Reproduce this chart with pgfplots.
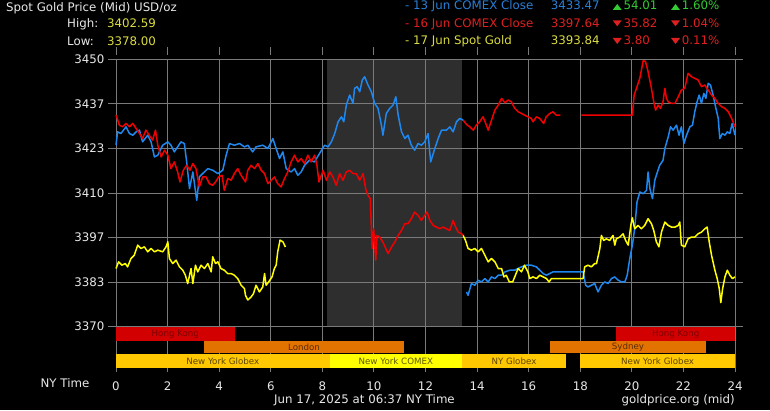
\documentclass[border=0pt]{standalone}
\usepackage{fontspec}
\setmainfont{DejaVu Sans}
\usepackage{pgfplots}
\pgfplotsset{compat=1.18}
\definecolor{cblue}{HTML}{1E88F0}
\definecolor{cred}{HTML}{F00000}
\definecolor{cyel}{HTML}{FFFF00}
\definecolor{tblue}{HTML}{2A80D8}
\definecolor{tred}{HTML}{E02020}
\definecolor{tyel}{HTML}{DCDC40}
\definecolor{tgreen}{HTML}{33CC33}
\definecolor{twhite}{HTML}{E8E8E8}
\definecolor{gridc}{HTML}{7A7A7A}
\definecolor{shadec}{HTML}{2E2E2E}
\definecolor{hk}{HTML}{D20000}
\definecolor{hkt}{HTML}{7A0000}
\definecolor{lon}{HTML}{E37300}
\definecolor{lont}{HTML}{5C2A00}
\definecolor{glb}{HTML}{FFC800}
\definecolor{glbt}{HTML}{5A4500}
\definecolor{cmx}{HTML}{FFFF00}
\definecolor{cmxt}{HTML}{5A5A00}
\newcommand{\mf}{\fontsize{11.8}{14}\selectfont}
\newcommand{\bfnt}{\fontsize{8.7}{10}\selectfont}
\begin{document}
\begin{tikzpicture}
\begin{axis}[set layers, clip=false,
  at={(116pt,41.7pt)}, anchor=south west,
  scale only axis, width=619pt, height=309pt,
  xmin=0, xmax=24, ymin=3357.55, ymax=3450,
  xtick={0,2,...,24},
  ytick={3370,3383.333,3396.667,3410,3423.333,3436.667,3450},
  yticklabels={3370,3383,3397,3410,3423,3437,3450},
  grid=major,
  major grid style={draw=gridc, line width=0.9pt},
  axis line style={draw=none},
  tick align=outside,
  major tick length=8pt,
  tick style={draw=gridc, line width=0.9pt},
  xtick style={yshift=4pt},
  tick label style={font=\mf, text=twhite},
  xticklabel style={yshift=-2pt},
  /pgf/number format/assume math mode=true,
  every axis plot/.append style={line width=1.5pt, line join=round, no markers},
]
\begin{pgfonlayer}{axis background}
\fill[black] ([xshift=-116pt,yshift=-41.7pt]rel axis cs:0,0) rectangle ([xshift=35pt,yshift=59.3pt]rel axis cs:1,1);
\fill[shadec] (axis cs:8.19,3370) rectangle (axis cs:13.41,3450);
\end{pgfonlayer}
% session bars
\fill[hk] (axis cs:0,3365.7) rectangle (axis cs:4.6,3370);
\fill[hk] (axis cs:19.39,3365.7) rectangle (axis cs:24,3370);
\fill[lon] (axis cs:3.41,3362.0) rectangle (axis cs:11.17,3365.7);
\fill[lon] (axis cs:16.83,3362.0) rectangle (axis cs:22.87,3365.7);
\fill[glb] (axis cs:0,3357.55) rectangle (axis cs:8.28,3361.9);
\fill[cmx] (axis cs:8.28,3357.55) rectangle (axis cs:13.41,3361.9);
\fill[glb] (axis cs:13.41,3357.55) rectangle (axis cs:17.44,3361.9);
\fill[glb] (axis cs:17.99,3357.55) rectangle (axis cs:24,3361.9);
\node[font=\bfnt, text=hkt] at (axis cs:2.3,3367.85) {Hong Kong};
\node[font=\bfnt, text=hkt] at (axis cs:21.7,3367.85) {Hong Kong};
\node[font=\bfnt, text=lont] at (axis cs:7.29,3363.85) {London};
\node[font=\bfnt, text=lont] at (axis cs:19.85,3363.85) {Sydney};
\node[font=\bfnt, text=glbt] at (axis cs:4.14,3359.72) {New York Globex};
\node[font=\bfnt, text=cmxt] at (axis cs:10.85,3359.72) {New York COMEX};
\node[font=\bfnt, text=glbt] at (axis cs:15.43,3359.72) {NY Globex};
\node[font=\bfnt, text=glbt] at (axis cs:21.0,3359.72) {New York Globex};
% blue A
\addplot[cblue] coordinates {
(0,3424.3)(0.06,3428.3)(0.19,3427.8)(0.39,3429.8)(0.52,3427.8)(0.65,3427.3)(0.78,3428.3)(0.91,3428.8)
(1.03,3425.3)(1.23,3427.3)(1.36,3425.3)(1.49,3420.8)(1.62,3421.3)(1.81,3424.3)(2.01,3425.3)(2.13,3424.3)
(2.26,3422.3)(2.39,3423.8)(2.52,3425.3)(2.65,3424.8)(2.74,3419.3)(2.85,3411.3)(2.98,3416.3)(3.13,3407.8)
(3.23,3414.8)(3.36,3415.8)(3.56,3417.3)(3.75,3416.8)(3.95,3415.8)(4.14,3416.8)(4.27,3421.3)(4.40,3424.8)
(4.59,3424.3)(4.79,3424.8)(4.98,3423.8)(5.11,3424.3)(5.30,3422.3)(5.43,3423.8)(5.69,3424.3)(5.89,3423.3)
(6.08,3426.3)(6.21,3423.3)(6.34,3420.3)(6.47,3422.3)(6.60,3417.3)(6.79,3416.3)(6.92,3417.3)(7.05,3415.3)
(7.18,3416.3)(7.31,3418.3)(7.50,3419.8)(7.70,3419.3)(7.89,3421.8)(8.09,3424.3)(8.22,3423.8)(8.35,3425.3)
(8.48,3427.8)(8.61,3431.3)(8.74,3432.8)(8.83,3431.3)(8.93,3436.3)(9.06,3439.3)(9.19,3436.8)(9.25,3441.3)
(9.35,3441.8)(9.45,3440.3)(9.55,3443.8)(9.64,3444.8)(9.77,3442.3)(9.90,3440.3)(10.03,3436.8)(10.16,3435.3)
(10.29,3430.3)(10.35,3427.3)(10.48,3433.8)(10.61,3435.3)(10.74,3436.3)(10.85,3438.8)(10.94,3433.3)(11.07,3428.3)
(11.20,3426.3)(11.32,3427.3)(11.45,3424.3)(11.58,3422.8)(11.71,3424.8)(11.84,3424.3)(11.97,3425.3)(12.10,3427.8)
(12.20,3419.3)(12.36,3423.3)(12.49,3426.3)(12.62,3428.8)(12.81,3428.8)(12.94,3429.8)(13.07,3428.3)(13.20,3431.3)
(13.33,3432.3)(13.46,3431.8)};
% blue B
\addplot[cblue] coordinates {
(13.59,3380.4)(13.65,3379.4)(13.78,3382.9)(13.91,3382.4)(14.04,3383.9)(14.17,3383.4)(14.30,3384.4)(14.43,3383.4)
(14.56,3384.9)(14.69,3384.4)(14.82,3385.4)(14.95,3385.4)(15.08,3386.4)(15.27,3386.9)(15.46,3386.9)(15.59,3387.4)
(15.72,3387.9)(15.91,3388.4)(16.10,3388.4)(16.30,3387.9)(16.43,3386.9)(16.56,3385.9)(16.69,3385.4)(16.82,3385.9)
(16.94,3386.4)(18.11,3386.4)(18.21,3382.4)(18.30,3381.9)(18.43,3382.4)(18.56,3382.9)(18.69,3380.4)(18.82,3382.4)
(18.95,3383.4)(19.08,3382.9)(19.21,3384.4)(19.34,3384.9)(19.47,3383.9)(19.60,3383.4)(19.73,3383.4)(19.82,3385.4)
(19.92,3390.4)(20.02,3394.4)(20.11,3399.3)(20.20,3407.3)(20.31,3410.3)(20.44,3409.8)(20.57,3410.8)(20.63,3416.3)
(20.70,3411.3)(20.80,3408.3)(20.89,3413.8)(20.95,3415.3)(21.08,3418.3)(21.21,3419.8)(21.28,3423.3)(21.41,3426.8)
(21.50,3429.8)(21.60,3428.8)(21.73,3430.3)(21.83,3427.3)(21.92,3429.8)(22.02,3424.8)(22.12,3427.3)(22.25,3429.8)
(22.35,3430.3)(22.44,3434.3)(22.53,3437.3)(22.61,3439.3)(22.70,3436.8)(22.79,3439.8)(22.87,3438.3)(22.96,3442.8)
(23.05,3442.3)(23.15,3439.3)(23.26,3435.3)(23.35,3432.3)(23.41,3426.3)(23.51,3427.8)(23.61,3427.3)(23.70,3428.3)
(23.80,3427.8)(23.89,3430.8)(24.0,3427.3)};
% red A
\addplot[cred] coordinates {
(0,3433.3)(0.13,3430.3)(0.26,3429.8)(0.39,3430.8)(0.52,3429.8)(0.65,3430.8)(0.78,3429.3)(0.91,3427.8)
(1.03,3426.3)(1.16,3428.8)(1.29,3427.3)(1.42,3425.8)(1.53,3428.8)(1.62,3424.3)(1.75,3420.8)(1.88,3422.8)
(2.01,3421.3)(2.13,3417.3)(2.26,3419.3)(2.39,3416.3)(2.48,3413.3)(2.61,3416.8)(2.74,3418.3)(2.87,3416.8)
(2.98,3418.8)(3.10,3417.3)(3.23,3411.8)(3.36,3414.8)(3.49,3414.8)(3.62,3412.8)(3.75,3412.3)(3.86,3413.3)
(3.98,3414.8)(4.11,3415.3)(4.20,3410.8)(4.33,3414.3)(4.46,3413.8)(4.59,3415.8)(4.72,3417.3)(4.85,3415.3)
(5.02,3413.3)(5.11,3416.8)(5.24,3418.3)(5.37,3417.3)(5.50,3418.8)(5.63,3416.8)(5.76,3415.8)(5.89,3412.8)
(6.02,3413.8)(6.14,3414.8)(6.27,3412.8)(6.40,3411.8)(6.53,3414.3)(6.66,3416.3)(6.79,3419.3)(6.92,3421.3)
(7.05,3419.3)(7.18,3420.3)(7.31,3418.8)(7.44,3421.3)(7.57,3419.3)(7.70,3421.3)(7.79,3418.3)(7.87,3413.3)
(8.03,3416.8)(8.16,3413.8)(8.29,3416.3)(8.41,3414.8)(8.54,3412.3)(8.67,3415.8)(8.80,3413.8)(8.93,3416.3)
(9.06,3416.8)(9.19,3415.8)(9.32,3415.8)(9.45,3413.8)(9.58,3415.8)(9.68,3411.3)(9.77,3409.3)(9.86,3408.3)
(9.93,3393.4)(9.99,3399.3)(10.07,3389.9)(10.12,3397.3)(10.22,3396.8)(10.35,3395.3)(10.46,3393.4)(10.55,3391.9)
(10.68,3393.8)(10.81,3395.3)(10.94,3397.3)(11.07,3398.8)(11.20,3400.8)(11.32,3400.8)(11.45,3402.3)(11.58,3404.3)
(11.71,3403.3)(11.84,3401.8)(11.97,3403.3)(12.06,3404.3)(12.17,3401.8)(12.30,3400.3)(12.43,3399.8)(12.55,3399.3)
(12.68,3399.8)(12.81,3399.3)(12.94,3398.8)(13.07,3401.8)(13.17,3399.8)(13.27,3398.3)(13.40,3397.8)(13.46,3397.3)};
% red B
\addplot[cred] coordinates {
(13.46,3431.8)(13.59,3430.5)(13.72,3429.8)(13.85,3428.8)(13.97,3430.3)(14.10,3431.3)(14.23,3432.8)(14.36,3430.3)
(14.43,3428.8)(14.56,3431.8)(14.69,3434.8)(14.82,3436.3)(14.95,3438.3)(15.08,3437.0)(15.20,3437.8)(15.33,3437.3)
(15.46,3435.3)(15.59,3434.3)(15.72,3433.8)(15.84,3433.3)(15.97,3432.8)(16.10,3432.3)(16.17,3431.3)(16.30,3432.8)
(16.43,3432.3)(16.58,3430.8)(16.68,3432.8)(16.82,3433.8)(16.94,3434.3)(17.07,3433.3)(17.23,3433.3)};
% red C
\addplot[cred] coordinates {
(18.04,3433.3)(20.02,3433.3)(20.09,3439.3)(20.18,3441.3)(20.31,3444.3)(20.44,3449.6)(20.53,3449.3)(20.63,3446.3)
(20.76,3441.3)(20.85,3437.3)(20.92,3434.8)(21.02,3436.3)(21.11,3435.3)(21.21,3437.3)(21.28,3441.3)(21.34,3438.3)
(21.41,3437.3)(21.54,3436.8)(21.67,3436.8)(21.80,3438.8)(21.92,3440.8)(22.05,3441.3)(22.18,3445.8)(22.31,3444.8)
(22.44,3444.3)(22.57,3443.8)(22.70,3441.8)(22.83,3442.3)(22.96,3440.8)(23.09,3439.3)(23.22,3438.3)(23.35,3436.8)
(23.48,3435.8)(23.61,3435.3)(23.74,3434.3)(23.87,3432.3)(24.0,3429.8)};
% yellow A
\addplot[cyel] coordinates {
(0,3387.4)(0.10,3389.4)(0.23,3388.4)(0.36,3388.9)(0.45,3387.9)(0.58,3390.4)(0.71,3391.4)(0.84,3394.4)
(0.97,3393.4)(1.10,3393.9)(1.23,3392.4)(1.36,3393.4)(1.49,3392.4)(1.62,3392.9)(1.81,3392.4)(1.94,3393.9)
(2.01,3395.4)(2.07,3390.4)(2.20,3388.9)(2.33,3389.9)(2.46,3387.9)(2.59,3386.9)(2.69,3385.4)(2.78,3382.9)
(2.91,3387.4)(2.98,3382.9)(3.08,3388.4)(3.17,3386.4)(3.30,3388.4)(3.43,3387.4)(3.56,3388.9)(3.69,3386.4)
(3.75,3390.9)(3.86,3388.9)(3.95,3389.4)(4.07,3387.4)(4.20,3386.9)(4.33,3385.9)(4.46,3385.9)(4.59,3385.4)
(4.72,3384.4)(4.85,3382.4)(4.98,3381.4)(5.02,3379.4)(5.11,3378.0)(5.24,3378.9)(5.33,3379.9)(5.43,3382.4)
(5.56,3380.4)(5.69,3381.9)(5.76,3385.9)(5.82,3382.4)(5.92,3383.4)(6.05,3384.9)(6.14,3387.4)(6.21,3388.4)
(6.27,3392.4)(6.36,3395.9)(6.47,3395.4)(6.57,3393.84)};
% yellow B
\addplot[cyel] coordinates {
(13.46,3397.3)(13.55,3395.8)(13.65,3393.4)(13.78,3392.9)(13.91,3393.4)(14.04,3392.4)(14.17,3393.4)(14.30,3391.4)
(14.43,3389.4)(14.56,3390.4)(14.69,3389.4)(14.82,3387.4)(14.95,3387.4)(15.04,3384.9)(15.13,3385.4)(15.25,3383.4)
(15.38,3383.4)(15.46,3384.9)(15.59,3387.4)(15.72,3386.4)(15.84,3388.4)(15.97,3386.4)(16.04,3384.4)(16.17,3384.9)
(16.30,3384.4)(16.43,3385.4)(16.56,3384.9)(16.69,3384.4)(16.79,3383.4)(16.88,3384.4)(18.11,3384.4)(18.17,3387.9)
(18.30,3388.4)(18.43,3387.9)(18.56,3388.9)(18.63,3388.9)(18.76,3393.4)(18.82,3397.3)(18.91,3395.8)(19.01,3396.3)
(19.14,3395.8)(19.27,3397.3)(19.34,3394.4)(19.40,3396.3)(19.53,3396.8)(19.66,3397.8)(19.76,3395.8)(19.86,3394.4)
(19.96,3400.3)(20.02,3402.6)(20.11,3399.3)(20.24,3400.3)(20.37,3399.3)(20.50,3400.3)(20.63,3402.3)(20.76,3400.8)
(20.85,3398.8)(20.95,3395.4)(21.05,3393.9)(21.15,3398.3)(21.28,3401.3)(21.41,3400.3)(21.54,3399.8)(21.67,3399.8)
(21.80,3400.3)(21.86,3401.3)(21.92,3394.4)(22.05,3393.9)(22.18,3396.3)(22.31,3396.8)(22.44,3396.8)(22.57,3397.8)
(22.70,3398.3)(22.83,3399.3)(22.92,3399.8)(23.00,3395.4)(23.09,3391.4)(23.22,3386.9)(23.31,3384.4)(23.39,3381.4)
(23.45,3377.2)(23.52,3381.4)(23.61,3384.9)(23.70,3386.9)(23.80,3385.4)(23.90,3384.4)(24.0,3384.9)};
\end{axis}
% header texts
\begin{scope}[every node/.style={inner sep=0pt, font=\mf}]
\node[anchor=base west, text=twhite] at (6pt,398pt) {Spot Gold Price (Mid) USD/oz};
\node[anchor=base west, text=twhite] at (67pt,382pt) {High:};
\node[anchor=base west, text=tyel] at (107pt,382pt) {3402.59};
\node[anchor=base west, text=twhite] at (67pt,364.5pt) {Low:};
\node[anchor=base west, text=tyel] at (107pt,364.5pt) {3378.00};
% legend rows
\node[anchor=base west, text=tblue] at (405pt,400pt) {- 13 Jun COMEX Close};
\node[anchor=base west, text=tblue] at (550.7pt,400pt) {3433.47};
\node[anchor=base west, text=tgreen] at (623.3pt,400pt) {54.01};
\node[anchor=base west, text=tgreen] at (681.7pt,400pt) {1.60\%};
\node[anchor=base west, text=tred] at (405pt,382.7pt) {- 16 Jun COMEX Close};
\node[anchor=base west, text=tred] at (550.7pt,382.7pt) {3397.64};
\node[anchor=base west, text=tred] at (623.3pt,382.7pt) {35.82};
\node[anchor=base west, text=tred] at (681.7pt,382.7pt) {1.04\%};
\node[anchor=base west, text=tyel] at (405pt,365pt) {- 17 Jun Spot Gold};
\node[anchor=base west, text=tyel] at (550.7pt,365pt) {3393.84};
\node[anchor=base west, text=tred] at (623.3pt,365pt) {3.80};
\node[anchor=base west, text=tred] at (681.7pt,365pt) {0.11\%};
% footer
\node[anchor=base east, text=twhite] at (89.5pt,22.7pt) {NY Time};
\node[anchor=base, text=twhite] at (364.5pt,7pt) {Jun 17, 2025 at 06:37 NY Time};
\node[anchor=base east, text=twhite] at (735pt,7pt) {goldprice.org (mid)};
\end{scope}
% arrow glyphs
\fill[tgreen] (612.7pt,400pt) -- (621.7pt,400pt) -- (617.2pt,406pt) -- cycle;
\fill[tgreen] (671pt,400pt) -- (680pt,400pt) -- (675.5pt,406pt) -- cycle;
\foreach \b in {382.7,365}{
  \fill[tred] (612.7pt,\b pt+7pt) -- (621.7pt,\b pt+7pt) -- (617.2pt,\b pt+1pt) -- cycle;
  \fill[tred] (671pt,\b pt+7pt) -- (680pt,\b pt+7pt) -- (675.5pt,\b pt+1pt) -- cycle;
}
\pgfresetboundingbox
\useasboundingbox (0pt,0pt) rectangle (770pt,410pt);
\end{tikzpicture}
\end{document}
